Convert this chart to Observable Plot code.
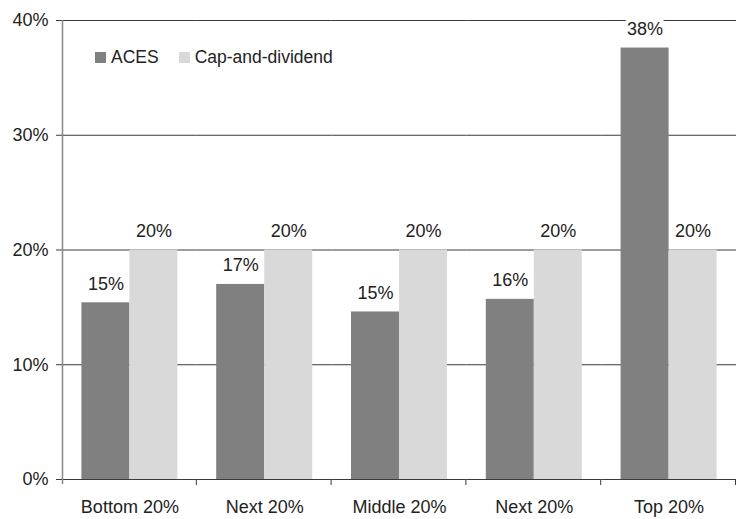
<!DOCTYPE html>
<html>
<head>
<meta charset="utf-8">
<script src="https://cdn.jsdelivr.net/npm/d3@7"></script>
<script src="https://cdn.jsdelivr.net/npm/@observablehq/plot@0.6"></script>
<style>
  html, body { margin: 0; padding: 0; background: #fff; }
  #wrap { position: relative; width: 741px; height: 519px; font-family: "Liberation Sans", Arial, sans-serif; }
  #legend { position: absolute; left: 95px; top: 47px; display: flex; align-items: center; font-size: 17.5px; color: #222; }
  #legend .sw { display: inline-block; width: 11px; height: 11px; margin-right: 5px; }
  #legend .item { display: flex; align-items: center; margin-right: 20px; }
</style>
</head>
<body>
<div id="wrap"></div>
<script>
const groups = ["Bottom 20%", "Next 20%", "Middle 20%", "Next 20%", "Top 20%"];
const seriesNames = ["ACES", "Cap-and-dividend"];
const aces = [15.4, 17.0, 14.6, 15.7, 37.6];
const capDiv = [20, 20, 20, 20, 20];
const acesLabels = ["15%", "17%", "15%", "16%", "38%"];
const capLabels = ["20%", "20%", "20%", "20%", "20%"];
const colors = ["#808080", "#d9d9d9"];
const yTicks = [0, 10, 20, 30, 40];
const gridTicks = [10, 20, 30, 40];

const data = [];
groups.forEach((g, i) => {
  data.push({g: i, series: seriesNames[0], value: aces[i], label: acesLabels[i]});
  data.push({g: i, series: seriesNames[1], value: capDiv[i], label: capLabels[i]});
});

const font = "Liberation Sans, Arial, sans-serif";
const chart = Plot.plot({
  width: 741,
  height: 519,
  marginLeft: 62,
  marginRight: 5,
  marginTop: 20,
  marginBottom: 40,
  style: {fontFamily: font, color: "#222", background: "#fff"},
  fx: {domain: d3.range(groups.length), padding: 0, round: false, axis: null},
  x: {domain: seriesNames, paddingInner: 0, paddingOuter: 0.404, round: false, axis: null},
  y: {domain: [0, 40], axis: null},
  color: {domain: seriesNames, range: colors},
  marks: [
    Plot.ruleY(gridTicks, {stroke: "#3a3a3a", strokeWidth: 1}),
    Plot.barY(data, {fx: "g", x: "series", y: "value", fill: "series"}),
    Plot.text(data, {fx: "g", x: "series", y: "value", text: "label", dy: -13, lineAnchor: "bottom",
      fontSize: 18, fill: "#222", stroke: "white", strokeWidth: 8, paintOrder: "stroke"}),
    Plot.ruleY([0], {stroke: "#3a3a3a", strokeWidth: 1}),
    Plot.axisY({ticks: yTicks, tickFormat: d => d + "%", tickSize: 6, tickPadding: 8, fontSize: 18, label: null, stroke: "#3a3a3a"}),
    Plot.axisFx({anchor: "bottom", tickSize: 0, tickPadding: 21, fontSize: 18, tickFormat: i => groups[i], label: null})
  ]
});

// band-boundary ticks and left axis line
const svg = d3.select(chart);
const fxInfo = chart.scale("fx");
const yInfo = chart.scale("y");
const fxs = d3.scaleBand().domain(fxInfo.domain).range(fxInfo.range).paddingInner(0).paddingOuter(0);
const ys = d3.scaleLinear().domain(yInfo.domain).range(yInfo.range);
const y0 = ys(0), yTop = ys(40);
const xLeft = fxs(fxInfo.domain[0]);
const g = svg.append("g");
g.append("line").attr("x1", xLeft + 0.5).attr("x2", xLeft + 0.5).attr("y1", yTop).attr("y2", y0 + 5)
  .attr("stroke", "#888").attr("stroke-width", 1.5);
fxInfo.domain.forEach(k => {
  const xr = fxs(k) + fxs.bandwidth();
  g.append("line").attr("x1", xr - 0.5).attr("x2", xr - 0.5).attr("y1", y0).attr("y2", y0 + 6)
    .attr("stroke", "#3a3a3a").attr("stroke-width", 1);
});

const wrap = document.getElementById("wrap");
wrap.appendChild(chart);
const legend = document.createElement("div");
legend.id = "legend";
seriesNames.forEach((s, i) => {
  const item = document.createElement("span");
  item.className = "item";
  const sw = document.createElement("span");
  sw.className = "sw";
  sw.style.background = colors[i];
  item.appendChild(sw);
  item.appendChild(document.createTextNode(s));
  legend.appendChild(item);
});
wrap.appendChild(legend);
</script>
</body>
</html>
